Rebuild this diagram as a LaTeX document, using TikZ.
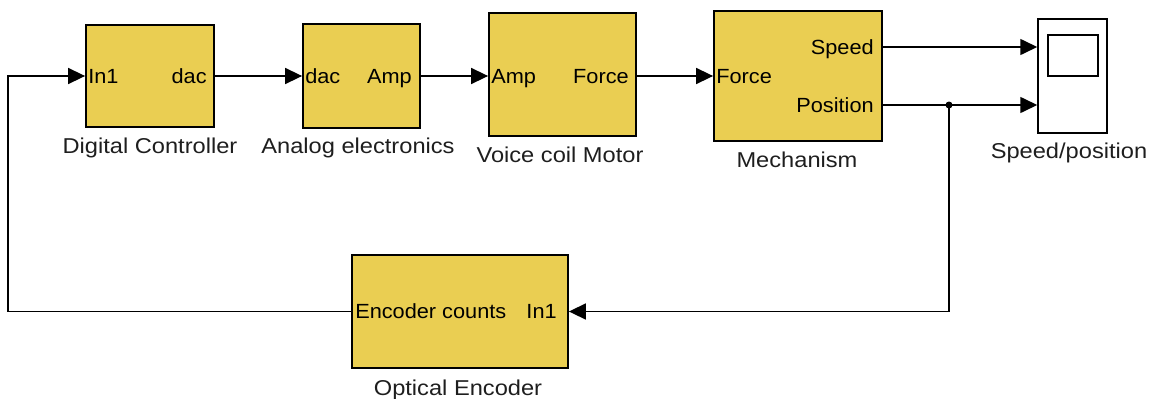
\documentclass[tikz,border=0pt]{standalone}
\usepackage{fontspec}
\setmainfont{Liberation Sans}
\newfontfamily\blkfont[FakeStretch=1.06]{Liberation Sans}
\newfontfamily\labfont[FakeStretch=1.1]{Liberation Sans}
\usetikzlibrary{arrows.meta}
\definecolor{blockyellow}{RGB}{234,206,82}
\definecolor{labgray}{RGB}{30,30,30}
\tikzset{
  blk/.style={draw=black, fill=blockyellow, line width=1.8pt, inner sep=0pt},
  scopebox/.style={draw=black, fill=white, line width=1.5pt, inner sep=0pt},
  port/.style={inner sep=0pt, font=\blkfont\fontsize{20.5pt}{23pt}\selectfont},
  lab/.style={inner sep=0pt, text=labgray, font=\labfont\fontsize{21.5pt}{24pt}\selectfont},
  arr/.style={line width=1.6pt, -{Triangle[length=17pt,width=16pt]}}
}
\begin{document}
\begin{tikzpicture}[x=1pt,y=-1pt]
\useasboundingbox (0,0) rectangle (1157,399);
% blocks
\node[blk, minimum width=128pt, minimum height=102pt] (dc) at (150,76) {};
\node[blk, minimum width=117pt, minimum height=104pt] (ae) at (361.5,76) {};
\node[blk, minimum width=147pt, minimum height=123pt] (vcm) at (562.5,74.5) {};
\node[blk, minimum width=168pt, minimum height=130pt] (mech) at (798,76) {};
\node[blk, minimum width=216pt, minimum height=113pt] (enc) at (460,311.5) {};
\node[scopebox, minimum width=69pt, minimum height=114pt] (scope) at (1072.5,76) {};
\node[scopebox, minimum width=50pt, minimum height=41pt] (screen) at (1073,55.5) {};
% port texts
\node[port, anchor=base west] (dcin) at ([xshift=3pt,yshift=-7pt]dc.west) {In1};
\node[port, anchor=base east] (dcout) at ([xshift=-8pt,yshift=-7pt]dc.east) {dac};
\node[port, anchor=base west] (aein) at ([xshift=3pt,yshift=-7pt]ae.west) {dac};
\node[port, anchor=base east] (aeout) at ([xshift=-9pt,yshift=-7pt]ae.east) {Amp};
\coordinate (vcmin) at (vcm.west |- dc.west);
\coordinate (vcmout) at (vcm.east |- dc.west);
\node[port, anchor=base west] (vcmint) at ([xshift=3pt,yshift=-7pt]vcmin) {Amp};
\node[port, anchor=base east] (vcmoutt) at ([xshift=-8pt,yshift=-7pt]vcmout) {Force};
\node[port, anchor=base west] (mechin) at ([xshift=3pt,yshift=-7pt]mech.west) {Force};
\coordinate (mspeed) at ([yshift=29pt]mech.east);
\coordinate (mpos) at ([yshift=-29pt]mech.east);
\node[port, anchor=base east] (mspeedt) at ([xshift=-9pt,yshift=-7pt]mspeed) {Speed};
\node[port, anchor=base east] (mpost) at ([xshift=-9pt,yshift=-7pt]mpos) {Position};
\node[port, anchor=base west] (encout) at ([xshift=4pt,yshift=-7pt]enc.west) {Encoder counts};
\node[port, anchor=base east] (encin) at ([xshift=-12pt,yshift=-7pt]enc.east) {In1};
% labels
\node[lab, anchor=base] (dcl) at (150,153) {Digital Controller};
\node[lab, anchor=base] (ael) at (358,153) {Analog electronics};
\node[lab, anchor=base] (vcml) at (560,162) {Voice coil Motor};
\node[lab, anchor=base] (mechl) at (797,167) {Mechanism};
\node[lab, anchor=base] (scopel) at (1069,158) {Speed/position};
\node[lab, anchor=base] (encl) at (458,395) {Optical Encoder};
% connectors
\draw[arr] (dc.east) -- (ae.west);
\draw[arr] (ae.east) -- (vcmin);
\draw[arr] (vcmout) -- (mech.west);
\draw[arr] (mspeed) -- (mspeed -| scope.west);
\draw[arr] (mpos) -- (mpos -| scope.west);
\coordinate (br) at (949,105);
\fill (br) circle (3.5pt);
\draw[arr] (br) |- (enc.east);
\coordinate (fbl) at (8,311.5);
\draw[arr] (enc.west) -- (fbl) |- (dc.west);
\end{tikzpicture}
\end{document}
